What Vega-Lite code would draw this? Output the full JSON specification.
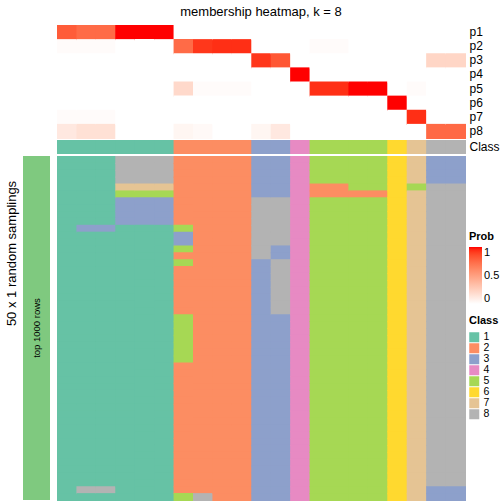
{
"$schema": "https://vega.github.io/schema/vega-lite/v6.json",
"autosize": {"type": "pad"},
"padding": {"left": 5, "top": 5, "right": 0, "bottom": 0},
"config": {"view": {"stroke": null}, "font": "Liberation Sans", "background": "white"},
"title": {"text": "50 x 1 random samplings", "orient": "left", "anchor": "middle", "fontSize": 13, "fontWeight": "normal", "color": "black", "offset": 4},
"columns": 2,
"bounds": "flush",
"spacing": {"row": 2, "column": 7},
"resolve": {"scale": {"x": "independent", "y": "independent", "fill": "independent"}},
"concat": [
{"width": 27, "height": 113, "data": {"values": []}, "mark": "rect", "encoding": {}},
{"width": 408, "height": 113,
 "title": {"text": "membership heatmap, k = 8", "fontSize": 13, "fontWeight": "normal", "color": "black", "anchor": "middle", "offset": 6},
 "data": {"values": [
{"c":1,"p":"p1","v":0.8},{"c":1,"p":"p2","v":0.02},{"c":1,"p":"p3","v":0},{"c":1,"p":"p4","v":0},{"c":1,"p":"p5","v":0},{"c":1,"p":"p6","v":0},{"c":1,"p":"p7","v":0.02},{"c":1,"p":"p8","v":0.12},
{"c":2,"p":"p1","v":0.74},{"c":2,"p":"p2","v":0.02},{"c":2,"p":"p3","v":0},{"c":2,"p":"p4","v":0},{"c":2,"p":"p5","v":0},{"c":2,"p":"p6","v":0},{"c":2,"p":"p7","v":0.02},{"c":2,"p":"p8","v":0.16},
{"c":3,"p":"p1","v":0.74},{"c":3,"p":"p2","v":0.02},{"c":3,"p":"p3","v":0},{"c":3,"p":"p4","v":0},{"c":3,"p":"p5","v":0},{"c":3,"p":"p6","v":0},{"c":3,"p":"p7","v":0.02},{"c":3,"p":"p8","v":0.16},
{"c":4,"p":"p1","v":1},{"c":4,"p":"p2","v":0},{"c":4,"p":"p3","v":0},{"c":4,"p":"p4","v":0},{"c":4,"p":"p5","v":0},{"c":4,"p":"p6","v":0},{"c":4,"p":"p7","v":0},{"c":4,"p":"p8","v":0},
{"c":5,"p":"p1","v":1},{"c":5,"p":"p2","v":0},{"c":5,"p":"p3","v":0},{"c":5,"p":"p4","v":0},{"c":5,"p":"p5","v":0},{"c":5,"p":"p6","v":0},{"c":5,"p":"p7","v":0},{"c":5,"p":"p8","v":0},
{"c":6,"p":"p1","v":1},{"c":6,"p":"p2","v":0},{"c":6,"p":"p3","v":0},{"c":6,"p":"p4","v":0},{"c":6,"p":"p5","v":0},{"c":6,"p":"p6","v":0},{"c":6,"p":"p7","v":0},{"c":6,"p":"p8","v":0},
{"c":7,"p":"p1","v":0},{"c":7,"p":"p2","v":0.74},{"c":7,"p":"p3","v":0},{"c":7,"p":"p4","v":0},{"c":7,"p":"p5","v":0.2},{"c":7,"p":"p6","v":0},{"c":7,"p":"p7","v":0},{"c":7,"p":"p8","v":0.05},
{"c":8,"p":"p1","v":0},{"c":8,"p":"p2","v":0.92},{"c":8,"p":"p3","v":0},{"c":8,"p":"p4","v":0},{"c":8,"p":"p5","v":0.02},{"c":8,"p":"p6","v":0},{"c":8,"p":"p7","v":0},{"c":8,"p":"p8","v":0.03},
{"c":9,"p":"p1","v":0},{"c":9,"p":"p2","v":0.94},{"c":9,"p":"p3","v":0},{"c":9,"p":"p4","v":0},{"c":9,"p":"p5","v":0.02},{"c":9,"p":"p6","v":0},{"c":9,"p":"p7","v":0},{"c":9,"p":"p8","v":0},
{"c":10,"p":"p1","v":0},{"c":10,"p":"p2","v":0.94},{"c":10,"p":"p3","v":0},{"c":10,"p":"p4","v":0},{"c":10,"p":"p5","v":0.02},{"c":10,"p":"p6","v":0},{"c":10,"p":"p7","v":0},{"c":10,"p":"p8","v":0},
{"c":11,"p":"p1","v":0},{"c":11,"p":"p2","v":0},{"c":11,"p":"p3","v":0.92},{"c":11,"p":"p4","v":0},{"c":11,"p":"p5","v":0},{"c":11,"p":"p6","v":0},{"c":11,"p":"p7","v":0},{"c":11,"p":"p8","v":0.05},
{"c":12,"p":"p1","v":0},{"c":12,"p":"p2","v":0},{"c":12,"p":"p3","v":0.82},{"c":12,"p":"p4","v":0},{"c":12,"p":"p5","v":0},{"c":12,"p":"p6","v":0},{"c":12,"p":"p7","v":0},{"c":12,"p":"p8","v":0.12},
{"c":13,"p":"p1","v":0},{"c":13,"p":"p2","v":0},{"c":13,"p":"p3","v":0},{"c":13,"p":"p4","v":1},{"c":13,"p":"p5","v":0},{"c":13,"p":"p6","v":0},{"c":13,"p":"p7","v":0},{"c":13,"p":"p8","v":0},
{"c":14,"p":"p1","v":0},{"c":14,"p":"p2","v":0.02},{"c":14,"p":"p3","v":0},{"c":14,"p":"p4","v":0},{"c":14,"p":"p5","v":0.94},{"c":14,"p":"p6","v":0},{"c":14,"p":"p7","v":0},{"c":14,"p":"p8","v":0},
{"c":15,"p":"p1","v":0},{"c":15,"p":"p2","v":0.02},{"c":15,"p":"p3","v":0},{"c":15,"p":"p4","v":0},{"c":15,"p":"p5","v":0.94},{"c":15,"p":"p6","v":0},{"c":15,"p":"p7","v":0},{"c":15,"p":"p8","v":0},
{"c":16,"p":"p1","v":0},{"c":16,"p":"p2","v":0},{"c":16,"p":"p3","v":0},{"c":16,"p":"p4","v":0},{"c":16,"p":"p5","v":1},{"c":16,"p":"p6","v":0},{"c":16,"p":"p7","v":0},{"c":16,"p":"p8","v":0},
{"c":17,"p":"p1","v":0},{"c":17,"p":"p2","v":0},{"c":17,"p":"p3","v":0},{"c":17,"p":"p4","v":0},{"c":17,"p":"p5","v":1},{"c":17,"p":"p6","v":0},{"c":17,"p":"p7","v":0},{"c":17,"p":"p8","v":0},
{"c":18,"p":"p1","v":0},{"c":18,"p":"p2","v":0},{"c":18,"p":"p3","v":0},{"c":18,"p":"p4","v":0},{"c":18,"p":"p5","v":0},{"c":18,"p":"p6","v":1},{"c":18,"p":"p7","v":0},{"c":18,"p":"p8","v":0},
{"c":19,"p":"p1","v":0},{"c":19,"p":"p2","v":0},{"c":19,"p":"p3","v":0},{"c":19,"p":"p4","v":0},{"c":19,"p":"p5","v":0.02},{"c":19,"p":"p6","v":0},{"c":19,"p":"p7","v":0.94},{"c":19,"p":"p8","v":0},
{"c":20,"p":"p1","v":0},{"c":20,"p":"p2","v":0},{"c":20,"p":"p3","v":0.22},{"c":20,"p":"p4","v":0},{"c":20,"p":"p5","v":0},{"c":20,"p":"p6","v":0},{"c":20,"p":"p7","v":0},{"c":20,"p":"p8","v":0.75},
{"c":21,"p":"p1","v":0},{"c":21,"p":"p2","v":0},{"c":21,"p":"p3","v":0.22},{"c":21,"p":"p4","v":0},{"c":21,"p":"p5","v":0},{"c":21,"p":"p6","v":0},{"c":21,"p":"p7","v":0},{"c":21,"p":"p8","v":0.75}
 ]},
 "mark": {"type": "rect", "width": {"band": 1.0515}, "height": {"band": 1.0708}, "xOffset": 0.5, "yOffset": 0.5},
 "encoding": {
  "x": {"field": "c", "type": "ordinal", "scale": {"paddingInner": 0, "paddingOuter": 0}, "axis": null},
  "y": {"field": "p", "type": "ordinal", "scale": {"paddingInner": 0, "paddingOuter": 0}, "axis": {"orient": "right", "title": null, "ticks": false, "domain": false, "labelPadding": 4, "labelFontSize": 12, "labelColor": "black"}},
  "fill": {"field": "v", "type": "quantitative", "scale": {"domain": [0, 1], "range": ["#ffffff", "#ff0000"], "interpolate": "lab"},
   "legend": {"title": "Prob", "orient": "none", "legendX": 412, "legendY": 206, "direction": "vertical", "gradientLength": 57, "gradientThickness": 13, "gradientStrokeWidth": 0, "values": [0, 0.5, 1], "format": "~g", "labelBaseline": "middle", "titleFontSize": 11, "titleFontWeight": "bold", "titleColor": "black", "labelFontSize": 11, "labelColor": "black", "titlePadding": 5}}
 }
},
{"width": 27, "height": 14, "data": {"values": []}, "mark": "rect", "encoding": {}},
{"width": 408, "height": 14,
 "data": {"values": [
{"c":1,"a":"Class","k":1},{"c":2,"a":"Class","k":1},{"c":3,"a":"Class","k":1},{"c":4,"a":"Class","k":1},{"c":5,"a":"Class","k":1},{"c":6,"a":"Class","k":1},{"c":7,"a":"Class","k":2},{"c":8,"a":"Class","k":2},{"c":9,"a":"Class","k":2},{"c":10,"a":"Class","k":2},{"c":11,"a":"Class","k":3},{"c":12,"a":"Class","k":3},{"c":13,"a":"Class","k":4},{"c":14,"a":"Class","k":5},{"c":15,"a":"Class","k":5},{"c":16,"a":"Class","k":5},{"c":17,"a":"Class","k":5},{"c":18,"a":"Class","k":6},{"c":19,"a":"Class","k":7},{"c":20,"a":"Class","k":8},{"c":21,"a":"Class","k":8}
 ]},
 "mark": {"type": "rect", "width": {"band": 1.0515}, "xOffset": 0.5},
 "encoding": {
  "x": {"field": "c", "type": "ordinal", "scale": {"paddingInner": 0, "paddingOuter": 0}, "axis": null},
  "y": {"field": "a", "type": "nominal", "scale": {"paddingInner": 0, "paddingOuter": 0}, "axis": {"orient": "right", "title": null, "ticks": false, "domain": false, "labelPadding": 4, "labelFontSize": 12, "labelColor": "black"}},
  "fill": {"field": "k", "type": "nominal", "scale": {"domain": [1,2,3,4,5,6,7,8], "range": ["#66C2A5","#FC8D62","#8DA0CB","#E78AC3","#A6D854","#FFD92F","#E5C494","#B3B3B3"]}, "legend": null}
 }
},
{"width": 27, "height": 344,
 "data": {"values": [{"g": "top 1000 rows"}]},
 "encoding": {
  "x": {"field": "g", "type": "nominal", "scale": {"paddingInner": 0, "paddingOuter": 0}, "axis": null},
  "y": {"field": "g", "type": "nominal", "scale": {"paddingInner": 0, "paddingOuter": 0}, "axis": null}
 },
 "layer": [
  {"mark": {"type": "rect", "fill": "#7FC97F"}},
  {"mark": {"type": "text", "angle": 270, "fontSize": 9.5, "color": "black"}, "encoding": {"text": {"field": "g"}}}
 ]
},
{"width": 408, "height": 344,
 "data": {"values": [
{"c":1,"r":1,"k":1},{"c":1,"r":2,"k":1},{"c":1,"r":3,"k":1},{"c":1,"r":4,"k":1},{"c":1,"r":5,"k":1},{"c":1,"r":6,"k":1},{"c":1,"r":7,"k":1},{"c":1,"r":8,"k":1},{"c":1,"r":9,"k":1},{"c":1,"r":10,"k":1},{"c":1,"r":11,"k":1},{"c":1,"r":12,"k":1},{"c":1,"r":13,"k":1},{"c":1,"r":14,"k":1},{"c":1,"r":15,"k":1},{"c":1,"r":16,"k":1},{"c":1,"r":17,"k":1},{"c":1,"r":18,"k":1},{"c":1,"r":19,"k":1},{"c":1,"r":20,"k":1},{"c":1,"r":21,"k":1},{"c":1,"r":22,"k":1},{"c":1,"r":23,"k":1},{"c":1,"r":24,"k":1},{"c":1,"r":25,"k":1},{"c":1,"r":26,"k":1},{"c":1,"r":27,"k":1},{"c":1,"r":28,"k":1},{"c":1,"r":29,"k":1},{"c":1,"r":30,"k":1},{"c":1,"r":31,"k":1},{"c":1,"r":32,"k":1},{"c":1,"r":33,"k":1},{"c":1,"r":34,"k":1},{"c":1,"r":35,"k":1},{"c":1,"r":36,"k":1},{"c":1,"r":37,"k":1},{"c":1,"r":38,"k":1},{"c":1,"r":39,"k":1},{"c":1,"r":40,"k":1},{"c":1,"r":41,"k":1},{"c":1,"r":42,"k":1},{"c":1,"r":43,"k":1},{"c":1,"r":44,"k":1},{"c":1,"r":45,"k":1},{"c":1,"r":46,"k":1},{"c":1,"r":47,"k":1},{"c":1,"r":48,"k":1},{"c":1,"r":49,"k":1},{"c":1,"r":50,"k":1},
{"c":2,"r":1,"k":1},{"c":2,"r":2,"k":1},{"c":2,"r":3,"k":1},{"c":2,"r":4,"k":1},{"c":2,"r":5,"k":1},{"c":2,"r":6,"k":1},{"c":2,"r":7,"k":1},{"c":2,"r":8,"k":1},{"c":2,"r":9,"k":1},{"c":2,"r":10,"k":1},{"c":2,"r":11,"k":3},{"c":2,"r":12,"k":1},{"c":2,"r":13,"k":1},{"c":2,"r":14,"k":1},{"c":2,"r":15,"k":1},{"c":2,"r":16,"k":1},{"c":2,"r":17,"k":1},{"c":2,"r":18,"k":1},{"c":2,"r":19,"k":1},{"c":2,"r":20,"k":1},{"c":2,"r":21,"k":1},{"c":2,"r":22,"k":1},{"c":2,"r":23,"k":1},{"c":2,"r":24,"k":1},{"c":2,"r":25,"k":1},{"c":2,"r":26,"k":1},{"c":2,"r":27,"k":1},{"c":2,"r":28,"k":1},{"c":2,"r":29,"k":1},{"c":2,"r":30,"k":1},{"c":2,"r":31,"k":1},{"c":2,"r":32,"k":1},{"c":2,"r":33,"k":1},{"c":2,"r":34,"k":1},{"c":2,"r":35,"k":1},{"c":2,"r":36,"k":1},{"c":2,"r":37,"k":1},{"c":2,"r":38,"k":1},{"c":2,"r":39,"k":1},{"c":2,"r":40,"k":1},{"c":2,"r":41,"k":1},{"c":2,"r":42,"k":1},{"c":2,"r":43,"k":1},{"c":2,"r":44,"k":1},{"c":2,"r":45,"k":1},{"c":2,"r":46,"k":1},{"c":2,"r":47,"k":1},{"c":2,"r":48,"k":1},{"c":2,"r":49,"k":8},{"c":2,"r":50,"k":1},
{"c":3,"r":1,"k":1},{"c":3,"r":2,"k":1},{"c":3,"r":3,"k":1},{"c":3,"r":4,"k":1},{"c":3,"r":5,"k":1},{"c":3,"r":6,"k":1},{"c":3,"r":7,"k":1},{"c":3,"r":8,"k":1},{"c":3,"r":9,"k":1},{"c":3,"r":10,"k":1},{"c":3,"r":11,"k":3},{"c":3,"r":12,"k":1},{"c":3,"r":13,"k":1},{"c":3,"r":14,"k":1},{"c":3,"r":15,"k":1},{"c":3,"r":16,"k":1},{"c":3,"r":17,"k":1},{"c":3,"r":18,"k":1},{"c":3,"r":19,"k":1},{"c":3,"r":20,"k":1},{"c":3,"r":21,"k":1},{"c":3,"r":22,"k":1},{"c":3,"r":23,"k":1},{"c":3,"r":24,"k":1},{"c":3,"r":25,"k":1},{"c":3,"r":26,"k":1},{"c":3,"r":27,"k":1},{"c":3,"r":28,"k":1},{"c":3,"r":29,"k":1},{"c":3,"r":30,"k":1},{"c":3,"r":31,"k":1},{"c":3,"r":32,"k":1},{"c":3,"r":33,"k":1},{"c":3,"r":34,"k":1},{"c":3,"r":35,"k":1},{"c":3,"r":36,"k":1},{"c":3,"r":37,"k":1},{"c":3,"r":38,"k":1},{"c":3,"r":39,"k":1},{"c":3,"r":40,"k":1},{"c":3,"r":41,"k":1},{"c":3,"r":42,"k":1},{"c":3,"r":43,"k":1},{"c":3,"r":44,"k":1},{"c":3,"r":45,"k":1},{"c":3,"r":46,"k":1},{"c":3,"r":47,"k":1},{"c":3,"r":48,"k":1},{"c":3,"r":49,"k":8},{"c":3,"r":50,"k":1},
{"c":4,"r":1,"k":8},{"c":4,"r":2,"k":8},{"c":4,"r":3,"k":8},{"c":4,"r":4,"k":8},{"c":4,"r":5,"k":7},{"c":4,"r":6,"k":5},{"c":4,"r":7,"k":3},{"c":4,"r":8,"k":3},{"c":4,"r":9,"k":3},{"c":4,"r":10,"k":3},{"c":4,"r":11,"k":1},{"c":4,"r":12,"k":1},{"c":4,"r":13,"k":1},{"c":4,"r":14,"k":1},{"c":4,"r":15,"k":1},{"c":4,"r":16,"k":1},{"c":4,"r":17,"k":1},{"c":4,"r":18,"k":1},{"c":4,"r":19,"k":1},{"c":4,"r":20,"k":1},{"c":4,"r":21,"k":1},{"c":4,"r":22,"k":1},{"c":4,"r":23,"k":1},{"c":4,"r":24,"k":1},{"c":4,"r":25,"k":1},{"c":4,"r":26,"k":1},{"c":4,"r":27,"k":1},{"c":4,"r":28,"k":1},{"c":4,"r":29,"k":1},{"c":4,"r":30,"k":1},{"c":4,"r":31,"k":1},{"c":4,"r":32,"k":1},{"c":4,"r":33,"k":1},{"c":4,"r":34,"k":1},{"c":4,"r":35,"k":1},{"c":4,"r":36,"k":1},{"c":4,"r":37,"k":1},{"c":4,"r":38,"k":1},{"c":4,"r":39,"k":1},{"c":4,"r":40,"k":1},{"c":4,"r":41,"k":1},{"c":4,"r":42,"k":1},{"c":4,"r":43,"k":1},{"c":4,"r":44,"k":1},{"c":4,"r":45,"k":1},{"c":4,"r":46,"k":1},{"c":4,"r":47,"k":1},{"c":4,"r":48,"k":1},{"c":4,"r":49,"k":1},{"c":4,"r":50,"k":1},
{"c":5,"r":1,"k":8},{"c":5,"r":2,"k":8},{"c":5,"r":3,"k":8},{"c":5,"r":4,"k":8},{"c":5,"r":5,"k":7},{"c":5,"r":6,"k":5},{"c":5,"r":7,"k":3},{"c":5,"r":8,"k":3},{"c":5,"r":9,"k":3},{"c":5,"r":10,"k":3},{"c":5,"r":11,"k":1},{"c":5,"r":12,"k":1},{"c":5,"r":13,"k":1},{"c":5,"r":14,"k":1},{"c":5,"r":15,"k":1},{"c":5,"r":16,"k":1},{"c":5,"r":17,"k":1},{"c":5,"r":18,"k":1},{"c":5,"r":19,"k":1},{"c":5,"r":20,"k":1},{"c":5,"r":21,"k":1},{"c":5,"r":22,"k":1},{"c":5,"r":23,"k":1},{"c":5,"r":24,"k":1},{"c":5,"r":25,"k":1},{"c":5,"r":26,"k":1},{"c":5,"r":27,"k":1},{"c":5,"r":28,"k":1},{"c":5,"r":29,"k":1},{"c":5,"r":30,"k":1},{"c":5,"r":31,"k":1},{"c":5,"r":32,"k":1},{"c":5,"r":33,"k":1},{"c":5,"r":34,"k":1},{"c":5,"r":35,"k":1},{"c":5,"r":36,"k":1},{"c":5,"r":37,"k":1},{"c":5,"r":38,"k":1},{"c":5,"r":39,"k":1},{"c":5,"r":40,"k":1},{"c":5,"r":41,"k":1},{"c":5,"r":42,"k":1},{"c":5,"r":43,"k":1},{"c":5,"r":44,"k":1},{"c":5,"r":45,"k":1},{"c":5,"r":46,"k":1},{"c":5,"r":47,"k":1},{"c":5,"r":48,"k":1},{"c":5,"r":49,"k":1},{"c":5,"r":50,"k":1},
{"c":6,"r":1,"k":8},{"c":6,"r":2,"k":8},{"c":6,"r":3,"k":8},{"c":6,"r":4,"k":8},{"c":6,"r":5,"k":7},{"c":6,"r":6,"k":5},{"c":6,"r":7,"k":3},{"c":6,"r":8,"k":3},{"c":6,"r":9,"k":3},{"c":6,"r":10,"k":3},{"c":6,"r":11,"k":1},{"c":6,"r":12,"k":1},{"c":6,"r":13,"k":1},{"c":6,"r":14,"k":1},{"c":6,"r":15,"k":1},{"c":6,"r":16,"k":1},{"c":6,"r":17,"k":1},{"c":6,"r":18,"k":1},{"c":6,"r":19,"k":1},{"c":6,"r":20,"k":1},{"c":6,"r":21,"k":1},{"c":6,"r":22,"k":1},{"c":6,"r":23,"k":1},{"c":6,"r":24,"k":1},{"c":6,"r":25,"k":1},{"c":6,"r":26,"k":1},{"c":6,"r":27,"k":1},{"c":6,"r":28,"k":1},{"c":6,"r":29,"k":1},{"c":6,"r":30,"k":1},{"c":6,"r":31,"k":1},{"c":6,"r":32,"k":1},{"c":6,"r":33,"k":1},{"c":6,"r":34,"k":1},{"c":6,"r":35,"k":1},{"c":6,"r":36,"k":1},{"c":6,"r":37,"k":1},{"c":6,"r":38,"k":1},{"c":6,"r":39,"k":1},{"c":6,"r":40,"k":1},{"c":6,"r":41,"k":1},{"c":6,"r":42,"k":1},{"c":6,"r":43,"k":1},{"c":6,"r":44,"k":1},{"c":6,"r":45,"k":1},{"c":6,"r":46,"k":1},{"c":6,"r":47,"k":1},{"c":6,"r":48,"k":1},{"c":6,"r":49,"k":1},{"c":6,"r":50,"k":1},
{"c":7,"r":1,"k":2},{"c":7,"r":2,"k":2},{"c":7,"r":3,"k":2},{"c":7,"r":4,"k":2},{"c":7,"r":5,"k":2},{"c":7,"r":6,"k":2},{"c":7,"r":7,"k":2},{"c":7,"r":8,"k":2},{"c":7,"r":9,"k":2},{"c":7,"r":10,"k":2},{"c":7,"r":11,"k":5},{"c":7,"r":12,"k":3},{"c":7,"r":13,"k":3},{"c":7,"r":14,"k":5},{"c":7,"r":15,"k":2},{"c":7,"r":16,"k":5},{"c":7,"r":17,"k":2},{"c":7,"r":18,"k":2},{"c":7,"r":19,"k":2},{"c":7,"r":20,"k":2},{"c":7,"r":21,"k":2},{"c":7,"r":22,"k":2},{"c":7,"r":23,"k":2},{"c":7,"r":24,"k":5},{"c":7,"r":25,"k":5},{"c":7,"r":26,"k":5},{"c":7,"r":27,"k":5},{"c":7,"r":28,"k":5},{"c":7,"r":29,"k":5},{"c":7,"r":30,"k":5},{"c":7,"r":31,"k":2},{"c":7,"r":32,"k":2},{"c":7,"r":33,"k":2},{"c":7,"r":34,"k":2},{"c":7,"r":35,"k":2},{"c":7,"r":36,"k":2},{"c":7,"r":37,"k":2},{"c":7,"r":38,"k":2},{"c":7,"r":39,"k":2},{"c":7,"r":40,"k":2},{"c":7,"r":41,"k":2},{"c":7,"r":42,"k":2},{"c":7,"r":43,"k":2},{"c":7,"r":44,"k":2},{"c":7,"r":45,"k":2},{"c":7,"r":46,"k":2},{"c":7,"r":47,"k":2},{"c":7,"r":48,"k":2},{"c":7,"r":49,"k":2},{"c":7,"r":50,"k":5},
{"c":8,"r":1,"k":2},{"c":8,"r":2,"k":2},{"c":8,"r":3,"k":2},{"c":8,"r":4,"k":2},{"c":8,"r":5,"k":2},{"c":8,"r":6,"k":2},{"c":8,"r":7,"k":2},{"c":8,"r":8,"k":2},{"c":8,"r":9,"k":2},{"c":8,"r":10,"k":2},{"c":8,"r":11,"k":2},{"c":8,"r":12,"k":2},{"c":8,"r":13,"k":2},{"c":8,"r":14,"k":2},{"c":8,"r":15,"k":2},{"c":8,"r":16,"k":2},{"c":8,"r":17,"k":2},{"c":8,"r":18,"k":2},{"c":8,"r":19,"k":2},{"c":8,"r":20,"k":2},{"c":8,"r":21,"k":2},{"c":8,"r":22,"k":2},{"c":8,"r":23,"k":2},{"c":8,"r":24,"k":2},{"c":8,"r":25,"k":2},{"c":8,"r":26,"k":2},{"c":8,"r":27,"k":2},{"c":8,"r":28,"k":2},{"c":8,"r":29,"k":2},{"c":8,"r":30,"k":2},{"c":8,"r":31,"k":2},{"c":8,"r":32,"k":2},{"c":8,"r":33,"k":2},{"c":8,"r":34,"k":2},{"c":8,"r":35,"k":2},{"c":8,"r":36,"k":2},{"c":8,"r":37,"k":2},{"c":8,"r":38,"k":2},{"c":8,"r":39,"k":2},{"c":8,"r":40,"k":2},{"c":8,"r":41,"k":2},{"c":8,"r":42,"k":2},{"c":8,"r":43,"k":2},{"c":8,"r":44,"k":2},{"c":8,"r":45,"k":2},{"c":8,"r":46,"k":2},{"c":8,"r":47,"k":2},{"c":8,"r":48,"k":2},{"c":8,"r":49,"k":2},{"c":8,"r":50,"k":8},
{"c":9,"r":1,"k":2},{"c":9,"r":2,"k":2},{"c":9,"r":3,"k":2},{"c":9,"r":4,"k":2},{"c":9,"r":5,"k":2},{"c":9,"r":6,"k":2},{"c":9,"r":7,"k":2},{"c":9,"r":8,"k":2},{"c":9,"r":9,"k":2},{"c":9,"r":10,"k":2},{"c":9,"r":11,"k":2},{"c":9,"r":12,"k":2},{"c":9,"r":13,"k":2},{"c":9,"r":14,"k":2},{"c":9,"r":15,"k":2},{"c":9,"r":16,"k":2},{"c":9,"r":17,"k":2},{"c":9,"r":18,"k":2},{"c":9,"r":19,"k":2},{"c":9,"r":20,"k":2},{"c":9,"r":21,"k":2},{"c":9,"r":22,"k":2},{"c":9,"r":23,"k":2},{"c":9,"r":24,"k":2},{"c":9,"r":25,"k":2},{"c":9,"r":26,"k":2},{"c":9,"r":27,"k":2},{"c":9,"r":28,"k":2},{"c":9,"r":29,"k":2},{"c":9,"r":30,"k":2},{"c":9,"r":31,"k":2},{"c":9,"r":32,"k":2},{"c":9,"r":33,"k":2},{"c":9,"r":34,"k":2},{"c":9,"r":35,"k":2},{"c":9,"r":36,"k":2},{"c":9,"r":37,"k":2},{"c":9,"r":38,"k":2},{"c":9,"r":39,"k":2},{"c":9,"r":40,"k":2},{"c":9,"r":41,"k":2},{"c":9,"r":42,"k":2},{"c":9,"r":43,"k":2},{"c":9,"r":44,"k":2},{"c":9,"r":45,"k":2},{"c":9,"r":46,"k":2},{"c":9,"r":47,"k":2},{"c":9,"r":48,"k":2},{"c":9,"r":49,"k":2},{"c":9,"r":50,"k":2},
{"c":10,"r":1,"k":2},{"c":10,"r":2,"k":2},{"c":10,"r":3,"k":2},{"c":10,"r":4,"k":2},{"c":10,"r":5,"k":2},{"c":10,"r":6,"k":2},{"c":10,"r":7,"k":2},{"c":10,"r":8,"k":2},{"c":10,"r":9,"k":2},{"c":10,"r":10,"k":2},{"c":10,"r":11,"k":2},{"c":10,"r":12,"k":2},{"c":10,"r":13,"k":2},{"c":10,"r":14,"k":2},{"c":10,"r":15,"k":2},{"c":10,"r":16,"k":2},{"c":10,"r":17,"k":2},{"c":10,"r":18,"k":2},{"c":10,"r":19,"k":2},{"c":10,"r":20,"k":2},{"c":10,"r":21,"k":2},{"c":10,"r":22,"k":2},{"c":10,"r":23,"k":2},{"c":10,"r":24,"k":2},{"c":10,"r":25,"k":2},{"c":10,"r":26,"k":2},{"c":10,"r":27,"k":2},{"c":10,"r":28,"k":2},{"c":10,"r":29,"k":2},{"c":10,"r":30,"k":2},{"c":10,"r":31,"k":2},{"c":10,"r":32,"k":2},{"c":10,"r":33,"k":2},{"c":10,"r":34,"k":2},{"c":10,"r":35,"k":2},{"c":10,"r":36,"k":2},{"c":10,"r":37,"k":2},{"c":10,"r":38,"k":2},{"c":10,"r":39,"k":2},{"c":10,"r":40,"k":2},{"c":10,"r":41,"k":2},{"c":10,"r":42,"k":2},{"c":10,"r":43,"k":2},{"c":10,"r":44,"k":2},{"c":10,"r":45,"k":2},{"c":10,"r":46,"k":2},{"c":10,"r":47,"k":2},{"c":10,"r":48,"k":2},{"c":10,"r":49,"k":2},{"c":10,"r":50,"k":2},
{"c":11,"r":1,"k":3},{"c":11,"r":2,"k":3},{"c":11,"r":3,"k":3},{"c":11,"r":4,"k":3},{"c":11,"r":5,"k":3},{"c":11,"r":6,"k":3},{"c":11,"r":7,"k":8},{"c":11,"r":8,"k":8},{"c":11,"r":9,"k":8},{"c":11,"r":10,"k":8},{"c":11,"r":11,"k":8},{"c":11,"r":12,"k":8},{"c":11,"r":13,"k":8},{"c":11,"r":14,"k":8},{"c":11,"r":15,"k":8},{"c":11,"r":16,"k":3},{"c":11,"r":17,"k":3},{"c":11,"r":18,"k":3},{"c":11,"r":19,"k":3},{"c":11,"r":20,"k":3},{"c":11,"r":21,"k":3},{"c":11,"r":22,"k":3},{"c":11,"r":23,"k":3},{"c":11,"r":24,"k":3},{"c":11,"r":25,"k":3},{"c":11,"r":26,"k":3},{"c":11,"r":27,"k":3},{"c":11,"r":28,"k":3},{"c":11,"r":29,"k":3},{"c":11,"r":30,"k":3},{"c":11,"r":31,"k":3},{"c":11,"r":32,"k":3},{"c":11,"r":33,"k":3},{"c":11,"r":34,"k":3},{"c":11,"r":35,"k":3},{"c":11,"r":36,"k":3},{"c":11,"r":37,"k":3},{"c":11,"r":38,"k":3},{"c":11,"r":39,"k":3},{"c":11,"r":40,"k":3},{"c":11,"r":41,"k":3},{"c":11,"r":42,"k":3},{"c":11,"r":43,"k":3},{"c":11,"r":44,"k":3},{"c":11,"r":45,"k":3},{"c":11,"r":46,"k":3},{"c":11,"r":47,"k":3},{"c":11,"r":48,"k":3},{"c":11,"r":49,"k":3},{"c":11,"r":50,"k":3},
{"c":12,"r":1,"k":3},{"c":12,"r":2,"k":3},{"c":12,"r":3,"k":3},{"c":12,"r":4,"k":3},{"c":12,"r":5,"k":3},{"c":12,"r":6,"k":3},{"c":12,"r":7,"k":8},{"c":12,"r":8,"k":8},{"c":12,"r":9,"k":8},{"c":12,"r":10,"k":8},{"c":12,"r":11,"k":8},{"c":12,"r":12,"k":8},{"c":12,"r":13,"k":8},{"c":12,"r":14,"k":3},{"c":12,"r":15,"k":3},{"c":12,"r":16,"k":8},{"c":12,"r":17,"k":8},{"c":12,"r":18,"k":8},{"c":12,"r":19,"k":8},{"c":12,"r":20,"k":8},{"c":12,"r":21,"k":8},{"c":12,"r":22,"k":8},{"c":12,"r":23,"k":8},{"c":12,"r":24,"k":3},{"c":12,"r":25,"k":3},{"c":12,"r":26,"k":3},{"c":12,"r":27,"k":3},{"c":12,"r":28,"k":3},{"c":12,"r":29,"k":3},{"c":12,"r":30,"k":3},{"c":12,"r":31,"k":3},{"c":12,"r":32,"k":3},{"c":12,"r":33,"k":3},{"c":12,"r":34,"k":3},{"c":12,"r":35,"k":3},{"c":12,"r":36,"k":3},{"c":12,"r":37,"k":3},{"c":12,"r":38,"k":3},{"c":12,"r":39,"k":3},{"c":12,"r":40,"k":3},{"c":12,"r":41,"k":3},{"c":12,"r":42,"k":3},{"c":12,"r":43,"k":3},{"c":12,"r":44,"k":3},{"c":12,"r":45,"k":3},{"c":12,"r":46,"k":3},{"c":12,"r":47,"k":3},{"c":12,"r":48,"k":3},{"c":12,"r":49,"k":3},{"c":12,"r":50,"k":3},
{"c":13,"r":1,"k":4},{"c":13,"r":2,"k":4},{"c":13,"r":3,"k":4},{"c":13,"r":4,"k":4},{"c":13,"r":5,"k":4},{"c":13,"r":6,"k":4},{"c":13,"r":7,"k":4},{"c":13,"r":8,"k":4},{"c":13,"r":9,"k":4},{"c":13,"r":10,"k":4},{"c":13,"r":11,"k":4},{"c":13,"r":12,"k":4},{"c":13,"r":13,"k":4},{"c":13,"r":14,"k":4},{"c":13,"r":15,"k":4},{"c":13,"r":16,"k":4},{"c":13,"r":17,"k":4},{"c":13,"r":18,"k":4},{"c":13,"r":19,"k":4},{"c":13,"r":20,"k":4},{"c":13,"r":21,"k":4},{"c":13,"r":22,"k":4},{"c":13,"r":23,"k":4},{"c":13,"r":24,"k":4},{"c":13,"r":25,"k":4},{"c":13,"r":26,"k":4},{"c":13,"r":27,"k":4},{"c":13,"r":28,"k":4},{"c":13,"r":29,"k":4},{"c":13,"r":30,"k":4},{"c":13,"r":31,"k":4},{"c":13,"r":32,"k":4},{"c":13,"r":33,"k":4},{"c":13,"r":34,"k":4},{"c":13,"r":35,"k":4},{"c":13,"r":36,"k":4},{"c":13,"r":37,"k":4},{"c":13,"r":38,"k":4},{"c":13,"r":39,"k":4},{"c":13,"r":40,"k":4},{"c":13,"r":41,"k":4},{"c":13,"r":42,"k":4},{"c":13,"r":43,"k":4},{"c":13,"r":44,"k":4},{"c":13,"r":45,"k":4},{"c":13,"r":46,"k":4},{"c":13,"r":47,"k":4},{"c":13,"r":48,"k":4},{"c":13,"r":49,"k":4},{"c":13,"r":50,"k":4},
{"c":14,"r":1,"k":5},{"c":14,"r":2,"k":5},{"c":14,"r":3,"k":5},{"c":14,"r":4,"k":5},{"c":14,"r":5,"k":2},{"c":14,"r":6,"k":2},{"c":14,"r":7,"k":5},{"c":14,"r":8,"k":5},{"c":14,"r":9,"k":5},{"c":14,"r":10,"k":5},{"c":14,"r":11,"k":5},{"c":14,"r":12,"k":5},{"c":14,"r":13,"k":5},{"c":14,"r":14,"k":5},{"c":14,"r":15,"k":5},{"c":14,"r":16,"k":5},{"c":14,"r":17,"k":5},{"c":14,"r":18,"k":5},{"c":14,"r":19,"k":5},{"c":14,"r":20,"k":5},{"c":14,"r":21,"k":5},{"c":14,"r":22,"k":5},{"c":14,"r":23,"k":5},{"c":14,"r":24,"k":5},{"c":14,"r":25,"k":5},{"c":14,"r":26,"k":5},{"c":14,"r":27,"k":5},{"c":14,"r":28,"k":5},{"c":14,"r":29,"k":5},{"c":14,"r":30,"k":5},{"c":14,"r":31,"k":5},{"c":14,"r":32,"k":5},{"c":14,"r":33,"k":5},{"c":14,"r":34,"k":5},{"c":14,"r":35,"k":5},{"c":14,"r":36,"k":5},{"c":14,"r":37,"k":5},{"c":14,"r":38,"k":5},{"c":14,"r":39,"k":5},{"c":14,"r":40,"k":5},{"c":14,"r":41,"k":5},{"c":14,"r":42,"k":5},{"c":14,"r":43,"k":5},{"c":14,"r":44,"k":5},{"c":14,"r":45,"k":5},{"c":14,"r":46,"k":5},{"c":14,"r":47,"k":5},{"c":14,"r":48,"k":5},{"c":14,"r":49,"k":5},{"c":14,"r":50,"k":5},
{"c":15,"r":1,"k":5},{"c":15,"r":2,"k":5},{"c":15,"r":3,"k":5},{"c":15,"r":4,"k":5},{"c":15,"r":5,"k":2},{"c":15,"r":6,"k":2},{"c":15,"r":7,"k":5},{"c":15,"r":8,"k":5},{"c":15,"r":9,"k":5},{"c":15,"r":10,"k":5},{"c":15,"r":11,"k":5},{"c":15,"r":12,"k":5},{"c":15,"r":13,"k":5},{"c":15,"r":14,"k":5},{"c":15,"r":15,"k":5},{"c":15,"r":16,"k":5},{"c":15,"r":17,"k":5},{"c":15,"r":18,"k":5},{"c":15,"r":19,"k":5},{"c":15,"r":20,"k":5},{"c":15,"r":21,"k":5},{"c":15,"r":22,"k":5},{"c":15,"r":23,"k":5},{"c":15,"r":24,"k":5},{"c":15,"r":25,"k":5},{"c":15,"r":26,"k":5},{"c":15,"r":27,"k":5},{"c":15,"r":28,"k":5},{"c":15,"r":29,"k":5},{"c":15,"r":30,"k":5},{"c":15,"r":31,"k":5},{"c":15,"r":32,"k":5},{"c":15,"r":33,"k":5},{"c":15,"r":34,"k":5},{"c":15,"r":35,"k":5},{"c":15,"r":36,"k":5},{"c":15,"r":37,"k":5},{"c":15,"r":38,"k":5},{"c":15,"r":39,"k":5},{"c":15,"r":40,"k":5},{"c":15,"r":41,"k":5},{"c":15,"r":42,"k":5},{"c":15,"r":43,"k":5},{"c":15,"r":44,"k":5},{"c":15,"r":45,"k":5},{"c":15,"r":46,"k":5},{"c":15,"r":47,"k":5},{"c":15,"r":48,"k":5},{"c":15,"r":49,"k":5},{"c":15,"r":50,"k":5},
{"c":16,"r":1,"k":5},{"c":16,"r":2,"k":5},{"c":16,"r":3,"k":5},{"c":16,"r":4,"k":5},{"c":16,"r":5,"k":5},{"c":16,"r":6,"k":2},{"c":16,"r":7,"k":5},{"c":16,"r":8,"k":5},{"c":16,"r":9,"k":5},{"c":16,"r":10,"k":5},{"c":16,"r":11,"k":5},{"c":16,"r":12,"k":5},{"c":16,"r":13,"k":5},{"c":16,"r":14,"k":5},{"c":16,"r":15,"k":5},{"c":16,"r":16,"k":5},{"c":16,"r":17,"k":5},{"c":16,"r":18,"k":5},{"c":16,"r":19,"k":5},{"c":16,"r":20,"k":5},{"c":16,"r":21,"k":5},{"c":16,"r":22,"k":5},{"c":16,"r":23,"k":5},{"c":16,"r":24,"k":5},{"c":16,"r":25,"k":5},{"c":16,"r":26,"k":5},{"c":16,"r":27,"k":5},{"c":16,"r":28,"k":5},{"c":16,"r":29,"k":5},{"c":16,"r":30,"k":5},{"c":16,"r":31,"k":5},{"c":16,"r":32,"k":5},{"c":16,"r":33,"k":5},{"c":16,"r":34,"k":5},{"c":16,"r":35,"k":5},{"c":16,"r":36,"k":5},{"c":16,"r":37,"k":5},{"c":16,"r":38,"k":5},{"c":16,"r":39,"k":5},{"c":16,"r":40,"k":5},{"c":16,"r":41,"k":5},{"c":16,"r":42,"k":5},{"c":16,"r":43,"k":5},{"c":16,"r":44,"k":5},{"c":16,"r":45,"k":5},{"c":16,"r":46,"k":5},{"c":16,"r":47,"k":5},{"c":16,"r":48,"k":5},{"c":16,"r":49,"k":5},{"c":16,"r":50,"k":5},
{"c":17,"r":1,"k":5},{"c":17,"r":2,"k":5},{"c":17,"r":3,"k":5},{"c":17,"r":4,"k":5},{"c":17,"r":5,"k":5},{"c":17,"r":6,"k":2},{"c":17,"r":7,"k":5},{"c":17,"r":8,"k":5},{"c":17,"r":9,"k":5},{"c":17,"r":10,"k":5},{"c":17,"r":11,"k":5},{"c":17,"r":12,"k":5},{"c":17,"r":13,"k":5},{"c":17,"r":14,"k":5},{"c":17,"r":15,"k":5},{"c":17,"r":16,"k":5},{"c":17,"r":17,"k":5},{"c":17,"r":18,"k":5},{"c":17,"r":19,"k":5},{"c":17,"r":20,"k":5},{"c":17,"r":21,"k":5},{"c":17,"r":22,"k":5},{"c":17,"r":23,"k":5},{"c":17,"r":24,"k":5},{"c":17,"r":25,"k":5},{"c":17,"r":26,"k":5},{"c":17,"r":27,"k":5},{"c":17,"r":28,"k":5},{"c":17,"r":29,"k":5},{"c":17,"r":30,"k":5},{"c":17,"r":31,"k":5},{"c":17,"r":32,"k":5},{"c":17,"r":33,"k":5},{"c":17,"r":34,"k":5},{"c":17,"r":35,"k":5},{"c":17,"r":36,"k":5},{"c":17,"r":37,"k":5},{"c":17,"r":38,"k":5},{"c":17,"r":39,"k":5},{"c":17,"r":40,"k":5},{"c":17,"r":41,"k":5},{"c":17,"r":42,"k":5},{"c":17,"r":43,"k":5},{"c":17,"r":44,"k":5},{"c":17,"r":45,"k":5},{"c":17,"r":46,"k":5},{"c":17,"r":47,"k":5},{"c":17,"r":48,"k":5},{"c":17,"r":49,"k":5},{"c":17,"r":50,"k":5},
{"c":18,"r":1,"k":6},{"c":18,"r":2,"k":6},{"c":18,"r":3,"k":6},{"c":18,"r":4,"k":6},{"c":18,"r":5,"k":6},{"c":18,"r":6,"k":6},{"c":18,"r":7,"k":6},{"c":18,"r":8,"k":6},{"c":18,"r":9,"k":6},{"c":18,"r":10,"k":6},{"c":18,"r":11,"k":6},{"c":18,"r":12,"k":6},{"c":18,"r":13,"k":6},{"c":18,"r":14,"k":6},{"c":18,"r":15,"k":6},{"c":18,"r":16,"k":6},{"c":18,"r":17,"k":6},{"c":18,"r":18,"k":6},{"c":18,"r":19,"k":6},{"c":18,"r":20,"k":6},{"c":18,"r":21,"k":6},{"c":18,"r":22,"k":6},{"c":18,"r":23,"k":6},{"c":18,"r":24,"k":6},{"c":18,"r":25,"k":6},{"c":18,"r":26,"k":6},{"c":18,"r":27,"k":6},{"c":18,"r":28,"k":6},{"c":18,"r":29,"k":6},{"c":18,"r":30,"k":6},{"c":18,"r":31,"k":6},{"c":18,"r":32,"k":6},{"c":18,"r":33,"k":6},{"c":18,"r":34,"k":6},{"c":18,"r":35,"k":6},{"c":18,"r":36,"k":6},{"c":18,"r":37,"k":6},{"c":18,"r":38,"k":6},{"c":18,"r":39,"k":6},{"c":18,"r":40,"k":6},{"c":18,"r":41,"k":6},{"c":18,"r":42,"k":6},{"c":18,"r":43,"k":6},{"c":18,"r":44,"k":6},{"c":18,"r":45,"k":6},{"c":18,"r":46,"k":6},{"c":18,"r":47,"k":6},{"c":18,"r":48,"k":6},{"c":18,"r":49,"k":6},{"c":18,"r":50,"k":6},
{"c":19,"r":1,"k":7},{"c":19,"r":2,"k":7},{"c":19,"r":3,"k":7},{"c":19,"r":4,"k":7},{"c":19,"r":5,"k":5},{"c":19,"r":6,"k":7},{"c":19,"r":7,"k":7},{"c":19,"r":8,"k":7},{"c":19,"r":9,"k":7},{"c":19,"r":10,"k":7},{"c":19,"r":11,"k":7},{"c":19,"r":12,"k":7},{"c":19,"r":13,"k":7},{"c":19,"r":14,"k":7},{"c":19,"r":15,"k":7},{"c":19,"r":16,"k":7},{"c":19,"r":17,"k":7},{"c":19,"r":18,"k":7},{"c":19,"r":19,"k":7},{"c":19,"r":20,"k":7},{"c":19,"r":21,"k":7},{"c":19,"r":22,"k":7},{"c":19,"r":23,"k":7},{"c":19,"r":24,"k":7},{"c":19,"r":25,"k":7},{"c":19,"r":26,"k":7},{"c":19,"r":27,"k":7},{"c":19,"r":28,"k":7},{"c":19,"r":29,"k":7},{"c":19,"r":30,"k":7},{"c":19,"r":31,"k":7},{"c":19,"r":32,"k":7},{"c":19,"r":33,"k":7},{"c":19,"r":34,"k":7},{"c":19,"r":35,"k":7},{"c":19,"r":36,"k":7},{"c":19,"r":37,"k":7},{"c":19,"r":38,"k":7},{"c":19,"r":39,"k":7},{"c":19,"r":40,"k":7},{"c":19,"r":41,"k":7},{"c":19,"r":42,"k":7},{"c":19,"r":43,"k":7},{"c":19,"r":44,"k":7},{"c":19,"r":45,"k":7},{"c":19,"r":46,"k":7},{"c":19,"r":47,"k":7},{"c":19,"r":48,"k":7},{"c":19,"r":49,"k":7},{"c":19,"r":50,"k":7},
{"c":20,"r":1,"k":3},{"c":20,"r":2,"k":3},{"c":20,"r":3,"k":3},{"c":20,"r":4,"k":3},{"c":20,"r":5,"k":8},{"c":20,"r":6,"k":8},{"c":20,"r":7,"k":8},{"c":20,"r":8,"k":8},{"c":20,"r":9,"k":8},{"c":20,"r":10,"k":8},{"c":20,"r":11,"k":8},{"c":20,"r":12,"k":8},{"c":20,"r":13,"k":8},{"c":20,"r":14,"k":8},{"c":20,"r":15,"k":8},{"c":20,"r":16,"k":8},{"c":20,"r":17,"k":8},{"c":20,"r":18,"k":8},{"c":20,"r":19,"k":8},{"c":20,"r":20,"k":8},{"c":20,"r":21,"k":8},{"c":20,"r":22,"k":8},{"c":20,"r":23,"k":8},{"c":20,"r":24,"k":8},{"c":20,"r":25,"k":8},{"c":20,"r":26,"k":8},{"c":20,"r":27,"k":8},{"c":20,"r":28,"k":8},{"c":20,"r":29,"k":8},{"c":20,"r":30,"k":8},{"c":20,"r":31,"k":8},{"c":20,"r":32,"k":8},{"c":20,"r":33,"k":8},{"c":20,"r":34,"k":8},{"c":20,"r":35,"k":8},{"c":20,"r":36,"k":8},{"c":20,"r":37,"k":8},{"c":20,"r":38,"k":8},{"c":20,"r":39,"k":8},{"c":20,"r":40,"k":8},{"c":20,"r":41,"k":8},{"c":20,"r":42,"k":8},{"c":20,"r":43,"k":8},{"c":20,"r":44,"k":8},{"c":20,"r":45,"k":8},{"c":20,"r":46,"k":8},{"c":20,"r":47,"k":8},{"c":20,"r":48,"k":8},{"c":20,"r":49,"k":3},{"c":20,"r":50,"k":3},
{"c":21,"r":1,"k":3},{"c":21,"r":2,"k":3},{"c":21,"r":3,"k":3},{"c":21,"r":4,"k":3},{"c":21,"r":5,"k":8},{"c":21,"r":6,"k":8},{"c":21,"r":7,"k":8},{"c":21,"r":8,"k":8},{"c":21,"r":9,"k":8},{"c":21,"r":10,"k":8},{"c":21,"r":11,"k":8},{"c":21,"r":12,"k":8},{"c":21,"r":13,"k":8},{"c":21,"r":14,"k":8},{"c":21,"r":15,"k":8},{"c":21,"r":16,"k":8},{"c":21,"r":17,"k":8},{"c":21,"r":18,"k":8},{"c":21,"r":19,"k":8},{"c":21,"r":20,"k":8},{"c":21,"r":21,"k":8},{"c":21,"r":22,"k":8},{"c":21,"r":23,"k":8},{"c":21,"r":24,"k":8},{"c":21,"r":25,"k":8},{"c":21,"r":26,"k":8},{"c":21,"r":27,"k":8},{"c":21,"r":28,"k":8},{"c":21,"r":29,"k":8},{"c":21,"r":30,"k":8},{"c":21,"r":31,"k":8},{"c":21,"r":32,"k":8},{"c":21,"r":33,"k":8},{"c":21,"r":34,"k":8},{"c":21,"r":35,"k":8},{"c":21,"r":36,"k":8},{"c":21,"r":37,"k":8},{"c":21,"r":38,"k":8},{"c":21,"r":39,"k":8},{"c":21,"r":40,"k":8},{"c":21,"r":41,"k":8},{"c":21,"r":42,"k":8},{"c":21,"r":43,"k":8},{"c":21,"r":44,"k":8},{"c":21,"r":45,"k":8},{"c":21,"r":46,"k":8},{"c":21,"r":47,"k":8},{"c":21,"r":48,"k":8},{"c":21,"r":49,"k":3},{"c":21,"r":50,"k":3}
 ]},
 "mark": {"type": "rect", "width": {"band": 1.0515}, "height": {"band": 1.1453}, "xOffset": 0.5, "yOffset": 0.5},
 "encoding": {
  "x": {"field": "c", "type": "ordinal", "scale": {"paddingInner": 0, "paddingOuter": 0}, "axis": null},
  "y": {"field": "r", "type": "ordinal", "scale": {"paddingInner": 0, "paddingOuter": 0}, "axis": null},
  "fill": {"field": "k", "type": "nominal", "scale": {"domain": [1,2,3,4,5,6,7,8], "range": ["#66C2A5","#FC8D62","#8DA0CB","#E78AC3","#A6D854","#FFD92F","#E5C494","#B3B3B3"]},
   "legend": {"title": "Class", "orient": "none", "legendX": 412, "legendY": 159, "symbolType": "square", "symbolSize": 100, "symbolStrokeWidth": 0, "rowPadding": -0.3, "titleFontSize": 11, "titleFontWeight": "bold", "titleColor": "black", "labelFontSize": 10.5, "labelColor": "black", "titlePadding": 6}}
 }
}
]
}
